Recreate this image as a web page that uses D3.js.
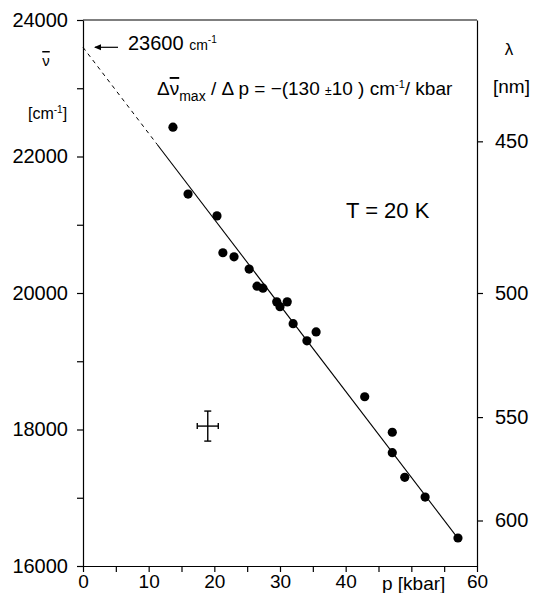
<!DOCTYPE html>
<html>
<head>
<meta charset="utf-8">
<script src="https://cdn.jsdelivr.net/npm/d3@7"></script>
<style>
  body { margin: 0; background: #fff; }
  svg { font-family: 'Liberation Sans', Arial, sans-serif; }
  .axis path, .axis line { stroke: #000; stroke-width: 1.2; }
  .axis text { font-size: 20px; fill: #000; }
  .over { text-decoration: overline; }
</style>
</head>
<body>
<div id="chart"></div>
<script>
// measured points: pressure (kbar) and band maximum (cm-1)
var pressure = [13.7, 16.0, 20.4, 21.3, 23.0, 25.3, 26.5, 27.4, 29.5, 30.0,
                31.1, 32.0, 34.1, 35.5, 42.9, 47.1, 47.1, 49.0, 52.1, 57.1];
var wavenumber = [22430, 21450, 21130, 20590, 20530, 20350, 20100, 20070, 19870, 19800,
                  19870, 19550, 19300, 19430, 18480, 17960, 17660, 17300, 17010, 16410];

// fitted line: extrapolated (dashed) part and fitted (solid) part
var fitDashed = [[0, 23600], [11.3, 22176]];
var fitSolid = [[11.3, 22176], [57.1, 16405]];

// typical error of one point
var errP = [19.0, 1.6];
var errNu = [18050, 220];

var xTicks = [0, 5, 10, 15, 20, 25, 30, 35, 40, 45, 50, 55, 60];
var xLabels = [0, 10, 20, 30, 40, 60];
var yTicks = [16000, 17000, 18000, 19000, 20000, 21000, 22000, 23000, 24000];
var yLabels = [16000, 18000, 20000, 22000, 24000];
var lambdaTicks = [450, 500, 550, 600];

var width = 535, height = 593;

var svg = d3.select('#chart').append('svg')
            .attr('width', width)
            .attr('height', height);

var x = d3.scaleLinear().domain([0, 60]).range([83, 477]);
var y = d3.scaleLinear().domain([16000, 24000]).range([566, 20]);

// axes
var xAxis = svg.append('g').attr('class', 'axis')
   .attr('transform', 'translate(0,566)')
   .call(d3.axisBottom(x).tickValues(xTicks).tickSize(6).tickSizeOuter(0).tickPadding(3)
           .tickFormat(function(d) { return xLabels.indexOf(d) >= 0 ? d : ''; }));
xAxis.selectAll('text').style('font-size', '19px');

svg.append('g').attr('class', 'axis')
   .attr('transform', 'translate(83,0)')
   .call(d3.axisLeft(y).tickValues(yTicks).tickSize(6).tickSizeOuter(0).tickPadding(9)
           .tickFormat(function(d) { return yLabels.indexOf(d) >= 0 ? d : ''; }));

svg.append('g').attr('class', 'axis')
   .attr('transform', 'translate(477,0)')
   .call(d3.axisRight(y).tickValues(lambdaTicks.map(function(l) { return 1e7 / l; }))
           .tickSize(6).tickSizeOuter(0).tickPadding(12)
           .tickFormat(function(d) { return Math.round(1e7 / d); }));

// top frame line
svg.append('line')
   .attr('x1', x(0)).attr('x2', x(60))
   .attr('y1', y(24000)).attr('y2', y(24000))
   .attr('stroke', '#000').attr('stroke-width', 1.2);

// fit line
var line = d3.line()
             .x(function(d) { return x(d[0]); })
             .y(function(d) { return y(d[1]); });

svg.append('path').attr('d', line(fitDashed))
   .attr('fill', 'none').attr('stroke', '#000').attr('stroke-width', 1)
   .attr('stroke-dasharray', '4,4');
svg.append('path').attr('d', line(fitSolid))
   .attr('fill', 'none').attr('stroke', '#000').attr('stroke-width', 1.1);

// points
svg.selectAll('.dot')
   .data(pressure.map(function(p, i) { return [p, wavenumber[i]]; }))
   .enter().append('circle')
   .attr('class', 'dot')
   .attr('cx', function(d) { return x(d[0]); })
   .attr('cy', function(d) { return y(d[1]); })
   .attr('r', 4.6)
   .attr('fill', '#000');

// error cross
var eb = svg.append('g').attr('stroke', '#000').attr('stroke-width', 1.4);
eb.append('line').attr('x1', x(errP[0] - errP[1])).attr('x2', x(errP[0] + errP[1]))
  .attr('y1', y(errNu[0])).attr('y2', y(errNu[0]));
eb.append('line').attr('x1', x(errP[0])).attr('x2', x(errP[0]))
  .attr('y1', y(errNu[0] - errNu[1])).attr('y2', y(errNu[0] + errNu[1]));
[-1, 1].forEach(function(s) {
  eb.append('line').attr('x1', x(errP[0] + s * errP[1])).attr('x2', x(errP[0] + s * errP[1]))
    .attr('y1', y(errNu[0]) - 3).attr('y2', y(errNu[0]) + 3);
  eb.append('line').attr('x1', x(errP[0]) - 3.5).attr('x2', x(errP[0]) + 3.5)
    .attr('y1', y(errNu[0] + s * errNu[1])).attr('y2', y(errNu[0] + s * errNu[1]));
});

// axis titles
svg.append('text').attr('x', 382).attr('y', 590)
   .style('font-size', '19px').text('p [kbar]');

svg.append('text').attr('x', 46).attr('y', 66).attr('text-anchor', 'middle')
   .attr('class', 'over').style('font-size', '15px').text('ν');

var cmL = svg.append('text').attr('x', 28).attr('y', 119).style('font-size', '16px');
cmL.append('tspan').text('[cm');
cmL.append('tspan').attr('dy', -6).style('font-size', '10px').text('-1');
cmL.append('tspan').attr('dy', 6).text(']');

svg.append('text').attr('x', 509).attr('y', 55).attr('text-anchor', 'middle')
   .style('font-size', '17px').text('λ');
svg.append('text').attr('x', 493).attr('y', 93)
   .style('font-size', '19px').text('[nm]');

// intercept annotation
svg.append('path')
   .attr('d', 'M95,' + y(23600) + 'L118,' + y(23600))
   .attr('stroke', '#000').attr('stroke-width', 1.2);
svg.append('path')
   .attr('d', 'M94,' + y(23600) + 'l7,-3v6z')
   .attr('fill', '#000');
var ann = svg.append('text').attr('x', 128).attr('y', 50).style('font-size', '20px');
ann.append('tspan').text('23600 ');
ann.append('tspan').style('font-size', '14px').text('cm');
ann.append('tspan').attr('dy', -7).style('font-size', '10px').text('-1');

// slope formula
var f = svg.append('text').attr('x', 157).attr('y', 95).style('font-size', '19px');
f.append('tspan').text('Δ');
f.append('tspan').attr('class', 'over').text('ν');
f.append('tspan').attr('dy', 6).style('font-size', '14px').text('max');
f.append('tspan').attr('dy', -6).text(' / Δ p  =  −(130 ');
f.append('tspan').style('font-size', '12px').text('±');
f.append('tspan').text('10 )  cm');
f.append('tspan').attr('dy', -7).style('font-size', '11px').text('-1');
f.append('tspan').attr('dy', 7).text('/ kbar');

svg.append('text').attr('x', 346).attr('y', 218)
   .style('font-size', '22px').text('T = 20 K');
</script>
</body>
</html>
